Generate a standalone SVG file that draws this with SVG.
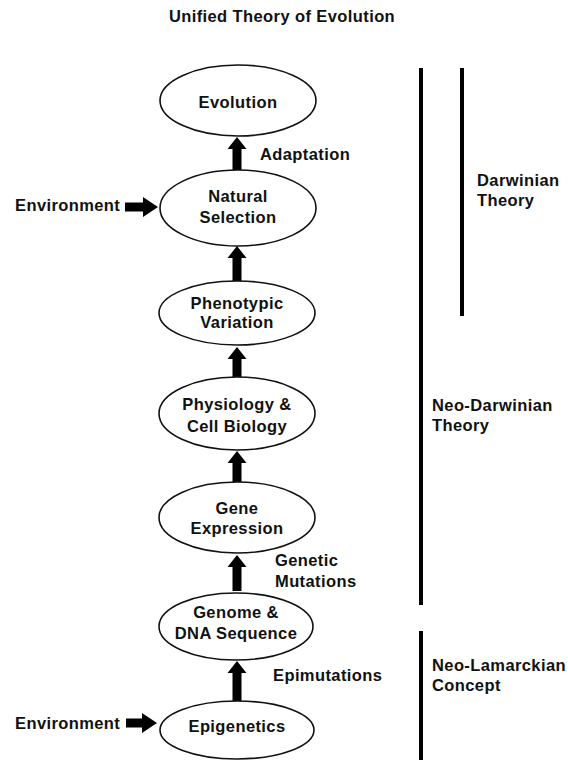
<svg xmlns="http://www.w3.org/2000/svg" width="568" height="760" viewBox="0 0 568 760">
<style>
text{font-family:"Liberation Sans",Arial,sans-serif;font-weight:bold;font-size:16.5px;letter-spacing:0.4px;fill:#111}
.c{text-anchor:middle}
ellipse{fill:#fff;stroke:#111;stroke-width:1.6}
.arr{fill:#000}
.bar{stroke:#000;stroke-width:4}
</style>
<rect width="568" height="760" fill="#fff"/>
<text class="c" x="282" y="22">Unified Theory of Evolution</text>

<g id="connectors">
<path class="arr" d="M237,137 L246.5,149 L241.5,149 L241.5,170 L232.5,170 L232.5,149 L227.5,149 Z"/>
<path class="arr" d="M237,246 L246.5,258 L241.5,258 L241.5,281 L232.5,281 L232.5,258 L227.5,258 Z"/>
<path class="arr" d="M237,347 L246.5,359 L241.5,359 L241.5,377 L232.5,377 L232.5,359 L227.5,359 Z"/>
<path class="arr" d="M237,451 L246.5,463 L241.5,463 L241.5,482 L232.5,482 L232.5,463 L227.5,463 Z"/>
<path class="arr" d="M237,555 L246.5,567 L241.5,567 L241.5,591 L232.5,591 L232.5,567 L227.5,567 Z"/>
<path class="arr" d="M237,661 L246.5,673 L241.5,673 L241.5,701 L232.5,701 L232.5,673 L227.5,673 Z"/>
<path class="arr" d="M125,202.5 L143,202.5 L143,197 L158,207 L143,217 L143,211.5 L125,211.5 Z"/>
<path class="arr" d="M126,718.5 L142,718.5 L142,713 L157,723 L142,733 L142,727.5 L126,727.5 Z"/>
</g>

<g id="evolution"><ellipse cx="238" cy="100.5" rx="78" ry="35.5"/><text class="c" x="238" y="108">Evolution</text></g>
<g id="natural-selection"><ellipse cx="238" cy="208" rx="78" ry="38"/><text class="c" x="238" y="202">Natural</text><text class="c" x="238" y="223">Selection</text></g>
<g id="phenotypic-variation"><ellipse cx="237" cy="313" rx="78" ry="32"/><text class="c" x="237" y="309">Phenotypic</text><text class="c" x="237" y="328">Variation</text></g>
<g id="physiology"><ellipse cx="237" cy="413.5" rx="78" ry="36.5"/><text class="c" x="237" y="410">Physiology &amp;</text><text class="c" x="237" y="432">Cell Biology</text></g>
<g id="gene-expression"><ellipse cx="237" cy="517.5" rx="78" ry="35.5"/><text class="c" x="237" y="514">Gene</text><text class="c" x="237" y="534">Expression</text></g>
<g id="genome"><ellipse cx="236" cy="626.5" rx="77" ry="33.5"/><text class="c" x="236" y="618">Genome &amp;</text><text class="c" x="236" y="639">DNA Sequence</text></g>
<g id="epigenetics"><ellipse cx="237" cy="730" rx="77" ry="29"/><text class="c" x="237" y="732">Epigenetics</text></g>

<g id="labels">
<text x="260" y="160">Adaptation</text>
<text x="275" y="566">Genetic</text>
<text x="275" y="587">Mutations</text>
<text x="273" y="681">Epimutations</text>
<text x="15" y="211">Environment</text>
<text x="15" y="729">Environment</text>
</g>

<g id="brackets">
<line class="bar" x1="421" y1="68" x2="421" y2="605"/>
<line class="bar" x1="462" y1="68" x2="462" y2="316"/>
<line class="bar" x1="421" y1="631" x2="421" y2="760"/>
<text x="477" y="186">Darwinian</text>
<text x="477" y="206">Theory</text>
<text x="432" y="411">Neo-Darwinian</text>
<text x="432" y="431">Theory</text>
<text x="432" y="671">Neo-Lamarckian</text>
<text x="432" y="691">Concept</text>
</g>
</svg>
